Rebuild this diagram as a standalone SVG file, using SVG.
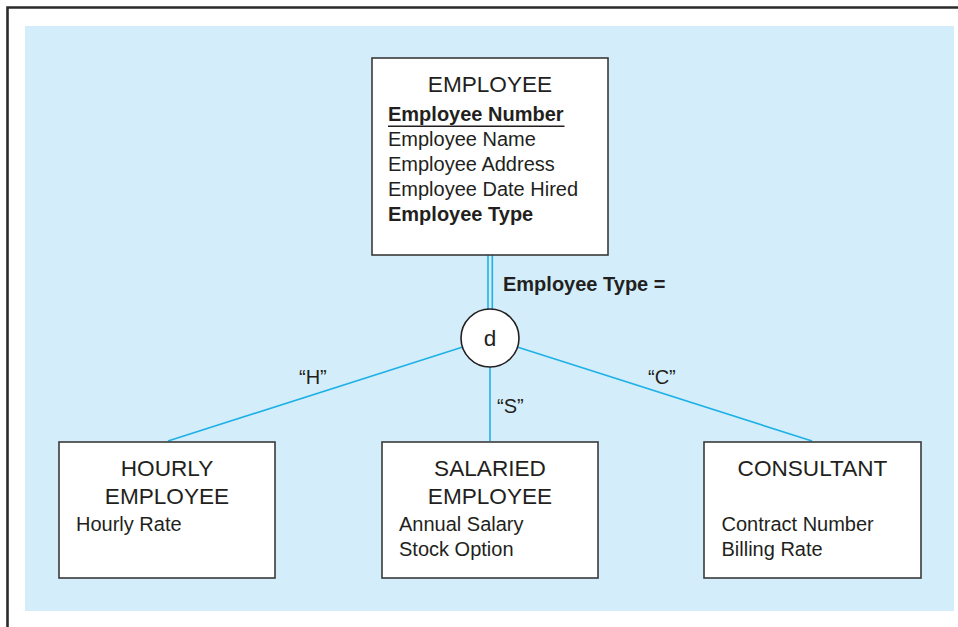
<svg xmlns="http://www.w3.org/2000/svg" width="958" height="627" viewBox="0 0 958 627">
<style>
text{font-family:"Liberation Sans",Arial,Helvetica,sans-serif;fill:#231f20}
.t{font-size:22.6px;text-anchor:middle}
.a{font-size:20px}
.b{font-weight:bold}
.box{fill:#fff;stroke:#3a3a3a;stroke-width:1.6}
.c{stroke:#1fb1e6;stroke-width:1.6;fill:none}
</style>
<rect x="0" y="0" width="958" height="627" fill="#fff"/>
<path d="M7.5 627 V7.5 H958" fill="none" stroke="#2b2b2b" stroke-width="2.6"/>
<rect x="25" y="26" width="929" height="585" fill="#d3eefa"/>
<g id="connectors">
<line class="c" x1="488" y1="255" x2="488" y2="309.5"/>
<line class="c" x1="492.3" y1="255" x2="492.3" y2="309.5"/>
<line class="c" x1="462" y1="347.3" x2="168" y2="441"/>
<line class="c" x1="490" y1="367" x2="490" y2="441"/>
<line class="c" x1="518" y1="347.3" x2="812" y2="441"/>
<text class="a b" x="503" y="290.5">Employee Type =</text>
<text class="a" x="299" y="384">“H”</text>
<text class="a" x="497" y="412.5">“S”</text>
<text class="a" x="648" y="384">“C”</text>
</g>
<g id="employee">
<rect class="box" x="372" y="58" width="236" height="197"/>
<text class="t" x="490" y="92">EMPLOYEE</text>
<text class="a b" x="388" y="120.7">Employee Number</text>
<line x1="388" y1="126.3" x2="564.5" y2="126.3" stroke="#231f20" stroke-width="1.6"/>
<text class="a" x="388" y="145.7">Employee Name</text>
<text class="a" x="388" y="170.7">Employee Address</text>
<text class="a" x="388" y="195.7">Employee Date Hired</text>
<text class="a b" x="388" y="220.7">Employee Type</text>
</g>
<g id="d">
<circle cx="490" cy="338" r="29" fill="#fff" stroke="#231f20" stroke-width="1.6"/>
<text class="t" x="490" y="345.5">d</text>
</g>
<g id="hourly">
<rect class="box" x="59" y="442" width="216" height="136"/>
<text class="t" x="167" y="476">HOURLY</text>
<text class="t" x="167" y="504">EMPLOYEE</text>
<text class="a" x="76" y="531">Hourly Rate</text>
</g>
<g id="salaried">
<rect class="box" x="382" y="442" width="216" height="136"/>
<text class="t" x="490" y="476">SALARIED</text>
<text class="t" x="490" y="504">EMPLOYEE</text>
<text class="a" x="399" y="531">Annual Salary</text>
<text class="a" x="399" y="556">Stock Option</text>
</g>
<g id="consultant">
<rect class="box" x="704" y="442" width="217" height="136"/>
<text class="t" x="812.5" y="475.5">CONSULTANT</text>
<text class="a" x="721.5" y="531">Contract Number</text>
<text class="a" x="721.5" y="556">Billing Rate</text>
</g>
</svg>
